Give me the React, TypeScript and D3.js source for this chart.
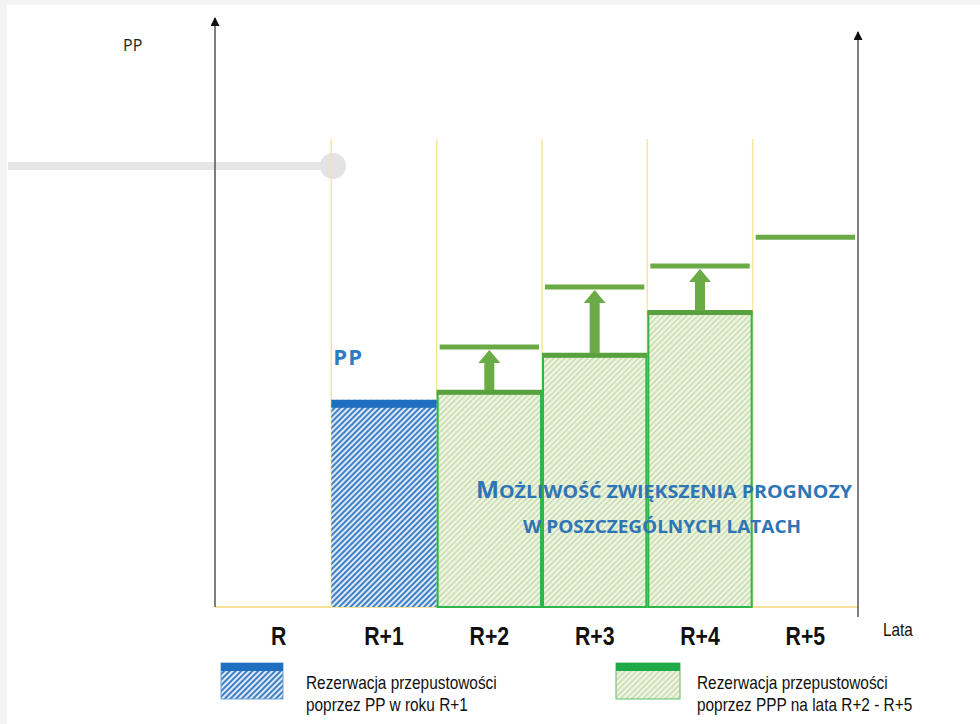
import React from "react";
import * as d3 from "d3";

const categories = ["R", "R+1", "R+2", "R+3", "R+4", "R+5"];
const ppCategories = ["R+1"];
const ppValues = [35.3];
const pppCategories = ["R+2", "R+3", "R+4"];
const pppValues = [36.4, 42.7, 50.0];
const forecastCategories = ["R+2", "R+3", "R+4", "R+5"];
const forecastValues = [44.3, 54.5, 58.1, 63.0];
const legendLabels = [
  ["Rezerwacja przepustowości", "poprzez PP w roku R+1"],
  ["Rezerwacja przepustowości", "poprzez PPP na lata R+2 - R+5"],
];

const W = 980;
const H = 724;
const x0 = 226, x1 = 858, yBase = 607;

export default function App() {
  const x = d3.scaleBand<string>().domain(categories).range([x0, x1]).padding(0);
  const y = d3.scaleLinear().domain([0, 100]).range([yBase, 20]);
  const bw = x.bandwidth();
  const sans = "'Liberation Sans', Arial, sans-serif";
  const olive = "#6aab45";
  const blue = "#1f6fc0";
  const green = "#2fb54a";

  const arrow = (cx: number, yFrom: number, yTo: number) => {
    const head = 13, hw = 11, sw = 5;
    const p = d3.path();
    p.moveTo(cx - sw, yFrom);
    p.lineTo(cx - sw, yTo + head);
    p.lineTo(cx - hw, yTo + head);
    p.lineTo(cx, yTo);
    p.lineTo(cx + hw, yTo + head);
    p.lineTo(cx + sw, yTo + head);
    p.lineTo(cx + sw, yFrom);
    p.closePath();
    return p.toString();
  };

  const narrowText = (tx: number, ty: number, s: string, size: number, sx: number, weight = 400, anchor = "start") => (
    <text transform={`translate(${tx},${ty}) scale(${sx},1)`} textAnchor={anchor} fontFamily={sans} fontWeight={weight} fontSize={size} fill="#111">{s}</text>
  );

  return (
    <svg width={W} height={H} style={{ position: "absolute", left: 0, top: 0, display: "block" }}>
      <defs>
        <pattern id="hatchBlue" patternUnits="userSpaceOnUse" width="4" height="4" patternTransform="rotate(45)">
          <rect width="4" height="4" fill="#dde9f6" />
          <rect width="2" height="4" fill="#3f80c6" />
        </pattern>
        <pattern id="hatchGreen" patternUnits="userSpaceOnUse" width="4" height="4" patternTransform="rotate(45)">
          <rect width="4" height="4" fill="#eef5e2" />
          <rect width="1.4" height="4" fill="#c4d8a8" />
        </pattern>
        <marker id="arrowHead" viewBox="0 0 10 10" refX="9" refY="5" markerWidth="11" markerHeight="9" orient="auto" markerUnits="userSpaceOnUse">
          <path d="M0,0 L10,5 L0,10 Z" fill="#111" />
        </marker>
      </defs>
      <rect x={0} y={0} width={W} height={H} fill="#f3f3f3" />
      <rect x={7} y={5} width={W - 7} height={H - 5} fill="#ffffff" />

      {/* gray slider */}
      <line x1={8} x2={330} y1={166} y2={166} stroke="#e6e6e6" strokeWidth={8} />
      <circle cx={333} cy={166} r={13} fill="#e3e3e3" />

      {/* yellow grid lines */}
      {categories.slice(1).map((c) => (
        <line key={c} x1={x(c)!} x2={x(c)!} y1={139} y2={yBase} stroke="#f6e59a" strokeWidth={1.5} />
      ))}
      <line x1={215} x2={x1} y1={yBase} y2={yBase} stroke="#f2d777" strokeWidth={1.5} />

      {/* PP bar */}
      {ppCategories.map((c, i) => (
        <g key={c}>
          <rect x={x(c)!} y={y(ppValues[i])} width={bw} height={yBase - y(ppValues[i])} fill="url(#hatchBlue)" />
          <rect x={x(c)!} y={y(ppValues[i])} width={bw} height={8} fill={blue} />
          <text x={x(c)! + 2} y={y(ppValues[i]) - 35} fill="#2d7cc1" fontFamily="'Open Sans', sans-serif" fontWeight={700} fontSize={22} letterSpacing={1}>PP</text>
        </g>
      ))}

      {/* PPP bars */}
      {pppCategories.map((c, i) => (
        <g key={c}>
          <rect x={x(c)! + 1} y={y(pppValues[i])} width={bw - 2} height={yBase - y(pppValues[i])} fill="url(#hatchGreen)" stroke={green} strokeWidth={2} />
          <line x1={x(c)!} x2={x(c)! + bw} y1={y(pppValues[i]) - 1} y2={y(pppValues[i]) - 1} stroke="#58a13e" strokeWidth={5} />
        </g>
      ))}

      {/* forecast lines and arrows */}
      {forecastCategories.map((c, i) => (
        <g key={c}>
          <line x1={x(c)! + 3} x2={x(c)! + bw - 3} y1={y(forecastValues[i])} y2={y(forecastValues[i])} stroke={olive} strokeWidth={5} />
          {i < pppValues.length && (
            <path d={arrow(x(c)! + bw / 2, y(pppValues[i]) - 3, y(forecastValues[i]) + 3)} fill={olive} />
          )}
        </g>
      ))}

      {/* axes */}
      <line x1={215} x2={215} y1={yBase} y2={18} stroke="#555" strokeWidth={1.5} markerEnd="url(#arrowHead)" />
      <line x1={x1} x2={x1} y1={617} y2={32} stroke="#555" strokeWidth={1.5} markerEnd="url(#arrowHead)" />
      <text x={123} y={51} fontFamily="'Open Sans', sans-serif" fontSize={16} fill="#222">PP</text>
      {narrowText(883, 636, "Lata", 18, 0.85)}

      {/* category labels */}
      {categories.map((c) => (
        <g key={c}>{narrowText(x(c)! + bw / 2, 645, c, 25, 0.85, 700, "middle")}</g>
      ))}

      {/* annotation */}
      <text x={476} y={498} textLength={376} lengthAdjust="spacingAndGlyphs" fill="#2e75b6" fontFamily="'Open Sans', sans-serif" fontWeight={700}>
        <tspan fontSize={23}>M</tspan>
        <tspan fontSize={18.5}>{"Możliwość zwiększenia prognozy".slice(1).toUpperCase()}</tspan>
      </text>
      <text x={523} y={533} textLength={278} lengthAdjust="spacingAndGlyphs" fill="#2e75b6" fontFamily="'Open Sans', sans-serif" fontWeight={700} fontSize={18.5}>
        {"w poszczególnych latach".toUpperCase()}
      </text>

      {/* legend */}
      <g>
        <rect x={221} y={663} width={62} height={36} fill="url(#hatchBlue)" stroke="#6ea0d6" strokeWidth={1} />
        <rect x={221} y={663} width={62} height={8} fill={blue} />
        {narrowText(306, 689, legendLabels[0][0], 17.5, 0.88)}
        {narrowText(306, 711, legendLabels[0][1], 17.5, 0.88)}
      </g>
      <g>
        <rect x={616} y={663} width={64} height={36} fill="url(#hatchGreen)" stroke="#5cc06a" strokeWidth={1} />
        <rect x={616} y={663} width={64} height={8} fill="#1faa4a" />
        {narrowText(697, 689, legendLabels[1][0], 17.5, 0.88)}
        {narrowText(697, 711, legendLabels[1][1], 17.5, 0.88)}
      </g>
    </svg>
  );
}
